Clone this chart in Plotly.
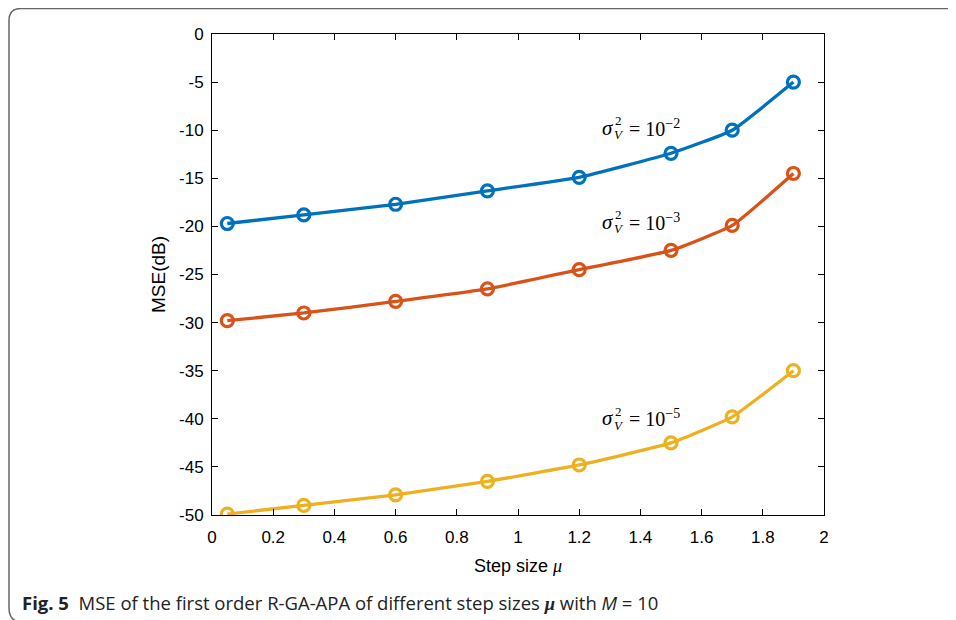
import plotly.graph_objects as go

step_sizes = [0.05, 0.3, 0.6, 0.9, 1.2, 1.5, 1.7, 1.9]
mse_1e2 = [-19.7, -18.8, -17.7, -16.3, -14.9, -12.4, -10.0, -5.0]
mse_1e3 = [-29.8, -29.0, -27.8, -26.5, -24.5, -22.5, -19.9, -14.5]
mse_1e5 = [-49.9, -49.0, -47.9, -46.5, -44.8, -42.5, -39.8, -35.0]
series_names = ["σ²=1e-2", "σ²=1e-3", "σ²=1e-5"]
exponents = ["−2", "−3", "−5"]
colors = ["#0072BD", "#D95319", "#EDB120"]

x_ticks = [0, 0.2, 0.4, 0.6, 0.8, 1, 1.2, 1.4, 1.6, 1.8, 2]
x_ticklabels = ["0", "0.2", "0.4", "0.6", "0.8", "1", "1.2", "1.4", "1.6", "1.8", "2"]
y_ticks = [0, -5, -10, -15, -20, -25, -30, -35, -40, -45, -50]
y_ticklabels = ["0", "-5", "-10", "-15", "-20", "-25", "-30", "-35", "-40", "-45", "-50"]

OFF = 8  # page body margin
W, H = 956 - OFF, 620 - OFF
L, R, T, B = 212, 824, 34, 515  # in page pixels

def px(x, y):
    return (x - L) / (R - L), (B - y) / (B - T)

sans = "Liberation Sans, Arial, Helvetica, sans-serif"
serif = "Liberation Serif, Times New Roman, serif"

fig = go.Figure()
for name, ys, c in zip(series_names, [mse_1e2, mse_1e3, mse_1e5], colors):
    fig.add_trace(go.Scatter(
        x=step_sizes, y=ys, name=name, mode="lines+markers",
        line=dict(color=c, width=3.3, shape="spline", smoothing=0.4),
        marker=dict(symbol="circle-open", size=12, color=c, line=dict(width=3.2, color=c)),
        showlegend=False,
    ))

axis_common = dict(
    showgrid=False, zeroline=False, showline=True, linecolor="black", linewidth=1,
    mirror="allticks", ticks="inside", ticklen=6, tickcolor="black",
    tickfont=dict(family=sans, size=17, color="black"),
)
fig.update_xaxes(range=[0, 2], tickvals=x_ticks, ticktext=x_ticklabels, ticklabelstandoff=7,
                 title=dict(text="Step size <span style='font-family:Liberation Serif'><i>μ</i></span>",
                            standoff=12, font=dict(family=sans, size=18, color="black")),
                 **axis_common)
fig.update_yaxes(range=[-50, 0], tickvals=y_ticks, ticktext=y_ticklabels, ticklabelstandoff=4,
                 title=dict(text="MSE(dB)", standoff=8,
                            font=dict(family=sans, size=19, color="black")),
                 **axis_common)

annotations = []
label_y = [128, 222, 418]
for ly, ex in zip(label_y, exponents):
    for text, x0, y0, size in [("<i>σ</i>", 600, ly, 21), ("2", 613, ly - 7, 13),
                               ("<i>V</i>", 612, ly + 7, 13),
                               ("= 10<sup>%s</sup>" % ex, 627, ly, 20)]:
        xp, yp = px(x0, y0)
        annotations.append(dict(x=xp, y=yp, xref="paper", yref="paper", text=text,
                                showarrow=False, xanchor="left", yanchor="middle",
                                font=dict(family=serif, size=size, color="black")))

cx, cy = px(20, 602)
annotations.append(dict(
    x=cx, y=cy, xref="paper", yref="paper", showarrow=False, xanchor="left", yanchor="middle",
    text="<b>Fig. 5</b>\u00a0\u00a0MSE of the first order R-GA-APA of different step sizes "
         "<b><i><span style='font-family:Liberation Serif'>μ</span></i></b> with <i>M</i> = 10",
    font=dict(family="Open Sans, Noto Sans, sans-serif", size=18.5, color="#222"),
))

# frame
def P(x, y):
    a, b = px(x, y)
    return f"{a:.5f},{b:.5f}"
path = (f"M {P(960, 8.5)} L {P(21, 8.5)} Q {P(9, 8.5)} {P(9, 20.5)} "
        f"L {P(9, 608)} Q {P(9, 618)} {P(16, 621)}")
fig.add_shape(type="path", path=path, xref="paper", yref="paper",
              line=dict(color="#666", width=1.5))

fig.update_layout(
    width=W, height=H,
    margin=dict(l=L - OFF, r=W - (R - OFF), t=T - OFF, b=H - (B - OFF)),
    plot_bgcolor="white", paper_bgcolor="white", annotations=annotations,
)
fig.write_html("out.html")
